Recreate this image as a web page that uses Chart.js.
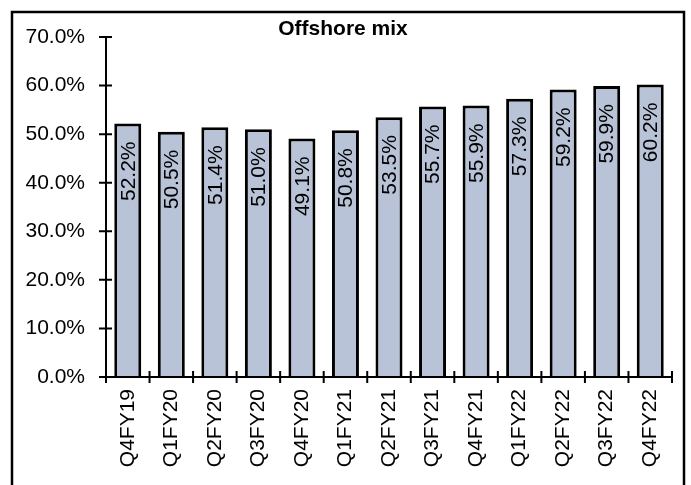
<!DOCTYPE html>
<html>
<head>
<meta charset="utf-8">
<script src="https://cdn.jsdelivr.net/npm/chart.js@4"></script>
<style>
  html, body { margin: 0; padding: 0; background: #fff; }
  #wrap { width: 691px; height: 485px; position: relative; }
</style>
</head>
<body>
<div id="wrap"><canvas id="c" width="691" height="485"></canvas></div>
<script>
// Quarterly offshore revenue share (%)
const quarters = ['Q4FY19','Q1FY20','Q2FY20','Q3FY20','Q4FY20','Q1FY21','Q2FY21','Q3FY21','Q4FY21','Q1FY22','Q2FY22','Q3FY22','Q4FY22'];
const offshoreMix = [52.2, 50.5, 51.4, 51.0, 49.1, 50.8, 53.5, 55.7, 55.9, 57.3, 59.2, 59.9, 60.2];
const yTicks = [0, 10, 20, 30, 40, 50, 60, 70];
const chartTitle = 'Offshore mix';

const FONT = 'Arial, "Liberation Sans", sans-serif';
const FONT_SIZE = 21;

// Outer frame and title
const framePlugin = {
  id: 'frame',
  beforeDraw(chart) {
    const ctx = chart.ctx;
    ctx.save();
    ctx.fillStyle = '#fff';
    ctx.fillRect(0, 0, chart.width, chart.height);
    ctx.strokeStyle = '#000';
    ctx.lineWidth = 2.5;
    ctx.beginPath();
    ctx.moveTo(12, chart.height + 2);
    ctx.lineTo(12, 12);
    ctx.lineTo(684, 12);
    ctx.lineTo(684, chart.height + 2);
    ctx.stroke();
    ctx.fillStyle = '#000';
    ctx.font = 'bold 21px ' + FONT;
    ctx.textAlign = 'center';
    ctx.textBaseline = 'middle';
    ctx.fillText(chartTitle, 343, 29);
    ctx.restore();
  }
};

// Axis lines with tick marks crossing the axis
const axesPlugin = {
  id: 'crossAxes',
  afterDraw(chart) {
    const ctx = chart.ctx;
    const a = chart.chartArea;
    const xs = chart.scales.x, ys = chart.scales.y;
    ctx.save();
    ctx.strokeStyle = '#000';
    ctx.lineWidth = 2;
    ctx.beginPath();
    // y axis
    ctx.moveTo(a.left, a.top);
    ctx.lineTo(a.left, a.bottom + 6);
    yTicks.forEach(v => {
      const y = ys.getPixelForValue(v);
      ctx.moveTo(a.left - 7, y);
      ctx.lineTo(a.left + 6, y);
    });
    // x axis
    ctx.moveTo(a.left, a.bottom);
    ctx.lineTo(a.right, a.bottom);
    for (let i = 1; i <= quarters.length; i++) {
      const x = i < quarters.length
        ? (xs.getPixelForValue(i - 1) + xs.getPixelForValue(i)) / 2
        : a.right;
      ctx.moveTo(x, a.bottom - 6);
      ctx.lineTo(x, a.bottom + 6);
    }
    ctx.stroke();
    ctx.restore();
  }
};

// Vertical value labels inside each bar
const valueLabels = {
  id: 'valueLabels',
  afterDatasetsDraw(chart) {
    const ctx = chart.ctx;
    const meta = chart.getDatasetMeta(0);
    ctx.save();
    ctx.fillStyle = '#000';
    ctx.font = FONT_SIZE + 'px ' + FONT;
    ctx.textAlign = 'right';
    ctx.textBaseline = 'middle';
    meta.data.forEach((bar, i) => {
      ctx.save();
      ctx.translate(bar.x + 1, bar.y + 18);
      ctx.rotate(-Math.PI / 2);
      ctx.fillText(offshoreMix[i].toFixed(1) + '%', 0, 0);
      ctx.restore();
    });
    ctx.restore();
  }
};

new Chart(document.getElementById('c'), {
  type: 'bar',
  data: {
    labels: quarters,
    datasets: [{
      data: offshoreMix,
      backgroundColor: '#b9c3d7',
      borderColor: '#000',
      borderWidth: 3,
      borderSkipped: 'bottom',
      barPercentage: 0.62,
      categoryPercentage: 1.0
    }]
  },
  options: {
    responsive: false,
    animation: false,
    devicePixelRatio: 1,
    layout: { padding: { top: 37, right: 19, left: 0, bottom: 0 } },
    plugins: {
      legend: { display: false },
      title: { display: false },
      tooltip: { enabled: false }
    },
    scales: {
      x: {
        offset: true,
        grid: { display: false, drawTicks: false },
        border: { display: false },
        ticks: {
          color: '#000',
          font: { family: FONT, size: FONT_SIZE },
          minRotation: 90,
          maxRotation: 90,
          padding: 12,
          autoSkip: false
        },
        afterFit(s) { s.height = 108; }
      },
      y: {
        min: 0,
        max: 70,
        grid: { display: false, drawTicks: false },
        border: { display: false },
        afterBuildTicks(s) { s.ticks = yTicks.map(v => ({ value: v })); },
        ticks: {
          color: '#000',
          font: { family: FONT, size: FONT_SIZE },
          padding: 21,
          callback: v => Number(v).toFixed(1) + '%'
        },
        afterFit(s) { s.width = 106; }
      }
    }
  },
  plugins: [framePlugin, axesPlugin, valueLabels]
});
</script>
</body>
</html>
